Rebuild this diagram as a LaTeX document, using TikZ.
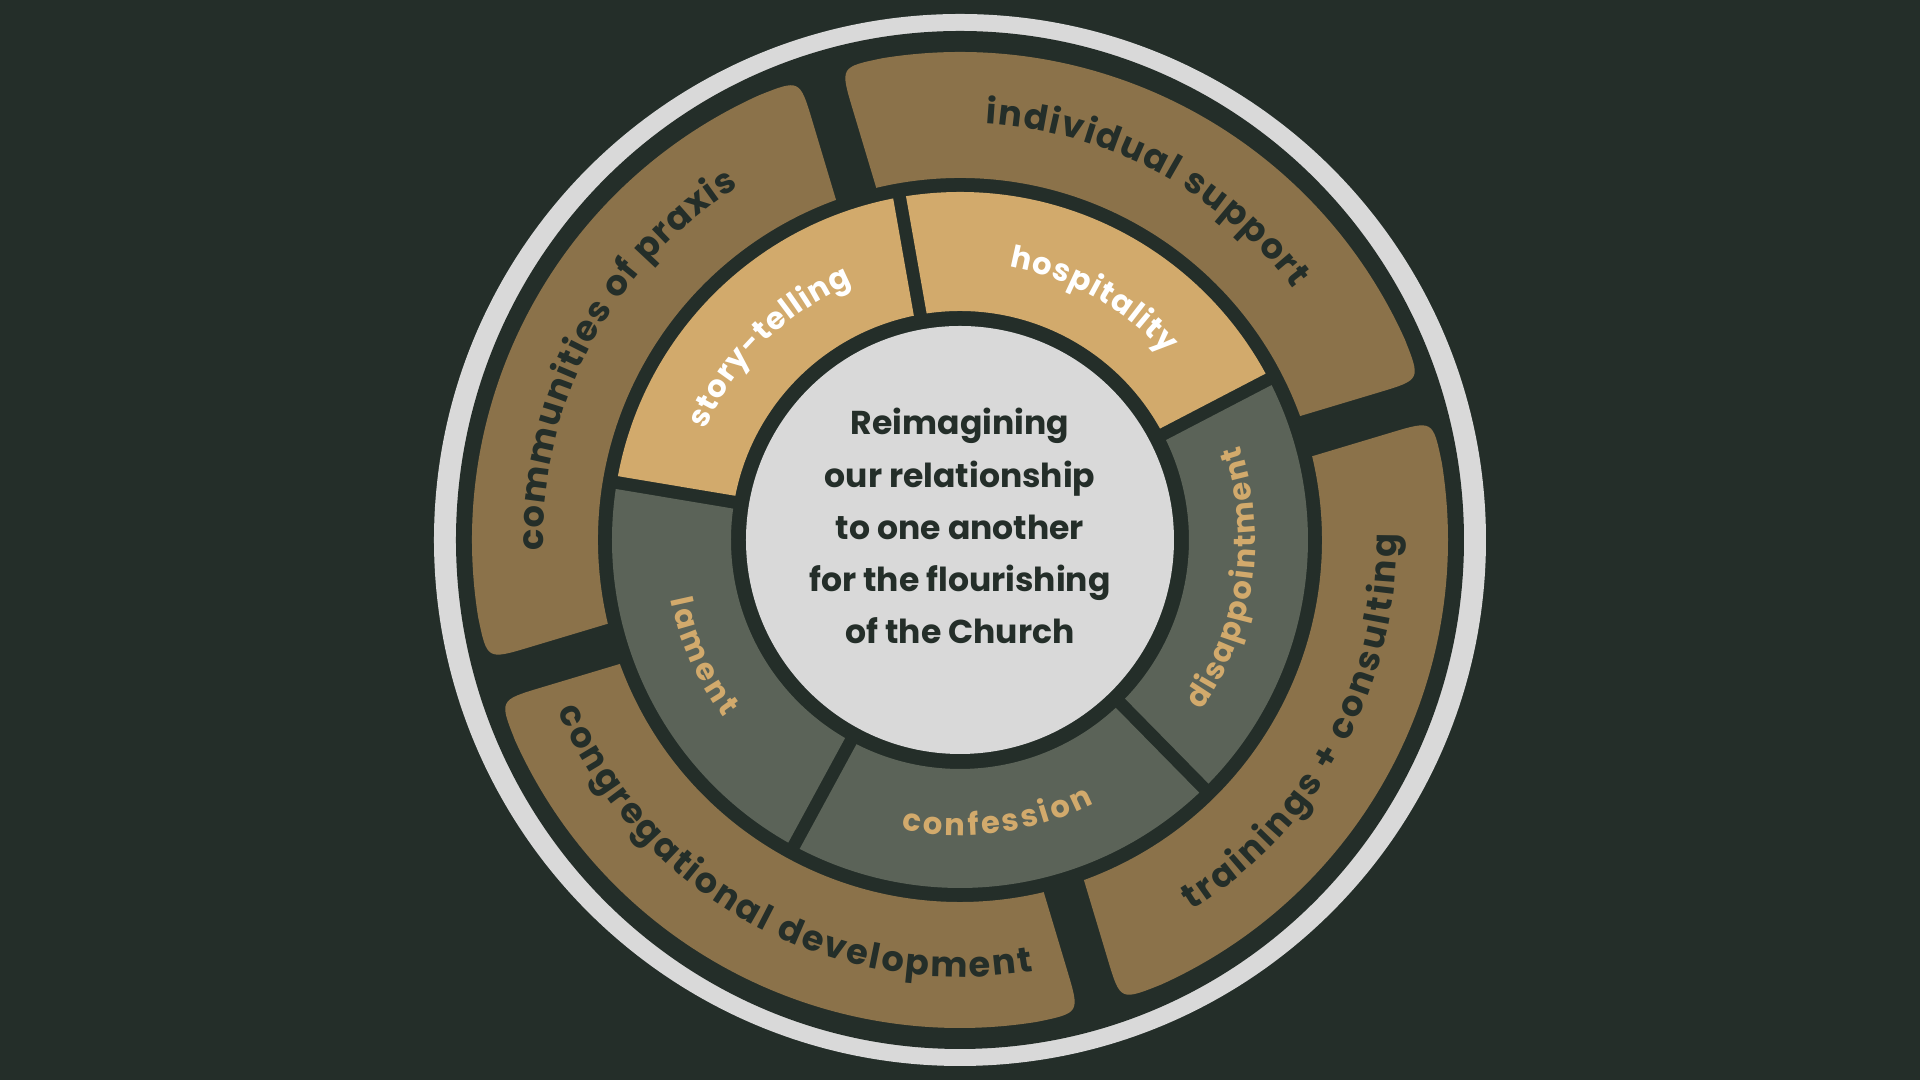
\documentclass[tikz,border=0pt]{standalone}
\usepackage{fontspec}
\setmainfont{Poppins}
\usetikzlibrary{calc,decorations.text}
\definecolor{pine}{RGB}{36,46,41}
\definecolor{mist}{RGB}{217,217,217}
\definecolor{umber}{RGB}{139,114,74}
\definecolor{sand}{RGB}{210,170,108}
\definecolor{slate}{RGB}{91,99,88}

\newcommand\bandfont{\fontsize{10}{12}\selectfont\bfseries}
\newcommand\ringfont{\fontsize{8.7}{10}\selectfont\bfseries}

\tikzset{
  arctext/.style 2 args={decorate,decoration={text along path,text align={fit to path},text color=#1,text={#2}}}
}

\begin{document}
\begin{tikzpicture}[x=0.01cm,y=0.01cm]
  % background and rim
  \fill[pine] (-960,-540) rectangle (960,540);
  \fill[mist] (0,0) circle[radius=526];
  \fill[pine] (0,0) ellipse[x radius=504,y radius=509];

  % outer band: ro/ri radii, gw half gap, rc corner
  \def\ro{488}\def\ri{362}\def\gw{21}\def\rc{44}\def\rcl{0.44cm}
  \foreach \a/\b in {16.7/106.7,106.7/196.7,196.7/286.7,286.7/376.7}
  {
    \pgfmathsetmacro{\qa}{\a+asin(\gw/\ri)}
    \pgfmathsetmacro{\pa}{\a+asin(\gw/\ro)}
    \pgfmathsetmacro{\pb}{\b-asin(\gw/\ro)}
    \pgfmathsetmacro{\qb}{\b-asin(\gw/\ri)}
    \pgfmathsetmacro{\da}{\pa+\rc/\ro*180/pi}
    \pgfmathsetmacro{\db}{\pb-\rc/\ro*180/pi}
    \coordinate (qa) at (\qa:\ri);
    \coordinate (pa) at (\pa:\ro);
    \coordinate (pb) at (\pb:\ro);
    \coordinate (qb) at (\qb:\ri);
    \fill[umber] (qa) -- ($(pa)!\rcl!(qa)$) .. controls (pa) .. (\da:\ro)
      arc[start angle=\da,end angle=\db,radius=\ro]
      .. controls (pb) .. ($(pb)!\rcl!(qb)$) -- (qb)
      arc[start angle=\qb,end angle=\qa,radius=\ri] -- cycle;
  }

  % inner ring
  \def\rk{348}\def\rj{229}\def\hw{6.5}
  \foreach \a/\b/\c in {27.5/100/sand,100/170.5/sand,170.5/241.5/slate,241.5/314.5/slate,314.5/387.5/slate}
  {
    \pgfmathsetmacro{\qa}{\a+asin(\hw/\rj)}
    \pgfmathsetmacro{\pa}{\a+asin(\hw/\rk)}
    \pgfmathsetmacro{\pb}{\b-asin(\hw/\rk)}
    \pgfmathsetmacro{\qb}{\b-asin(\hw/\rj)}
    \fill[\c] (\qa:\rj) -- (\pa:\rk) arc[start angle=\pa,end angle=\pb,radius=\rk]
      -- (\qb:\rj) arc[start angle=\qb,end angle=\qa,radius=\rj] -- cycle;
  }

  % hub
  \fill[mist] (0,0) circle[radius=214];
  \node[text=pine,align=center,font=\fontsize{9.4}{14.8}\selectfont\bfseries] (motto) at (0,14)
    {Reimagining\\our relationship\\to one another\\for the flourishing\\of the Church};

  % band labels
  \path[arctext={pine}{|\bandfont|communities of praxis}] (181.5:417) arc[start angle=181.5,end angle=122,radius=417];
  \path[arctext={pine}{|\bandfont|individual support}] (86.5:417) arc[start angle=86.5,end angle=37,radius=417];
  \path[arctext={pine}{|\bandfont|trainings + consulting}] (-58:437) arc[start angle=-58,end angle=0.8,radius=437];
  \path[arctext={pine}{|\bandfont|congregational development}] (203:437) arc[start angle=203,end angle=279.6,radius=437];

  % ring labels
  \path[arctext={white}{|\ringfont|story-telling}] (156.6:277.5) arc[start angle=156.6,end angle=112.8,radius=277.5];
  \path[arctext={white}{|\ringfont|hospitality}] (79.7:277.5) arc[start angle=79.7,end angle=42,radius=277.5];
  \path[arctext={sand}{|\ringfont|disappointment}] (-35.2:295.5) arc[start angle=-35.2,end angle=18.7,radius=295.5];
  \path[arctext={sand}{|\ringfont|confession}] (-101.5:295.5) arc[start angle=-101.5,end angle=-63,radius=295.5];
  \path[arctext={sand}{|\ringfont|lament}] (191.6:295.5) arc[start angle=191.6,end angle=216.9,radius=295.5];
\end{tikzpicture}
\end{document}
